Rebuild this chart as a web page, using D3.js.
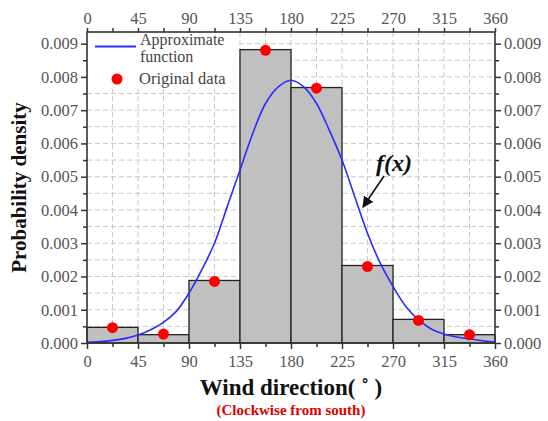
<!DOCTYPE html>
<html><head><meta charset="utf-8">
<script src="https://cdn.jsdelivr.net/npm/d3@7"></script>
<style>html,body{margin:0;padding:0;background:#fff;}svg{display:block;}</style>
</head><body>
<script>
// Data
const binStarts = [0, 45, 90, 135, 180, 225, 270, 315];
const binWidth = 45;
const barValues = [0.00047, 0.00025, 0.00188, 0.00882, 0.00768, 0.00233, 0.00071, 0.00025];
const dotAngles = [22.5, 67.5, 112.5, 157.5, 202.5, 247.5, 292.5, 337.5];
const dotValues = [0.00046, 0.00027, 0.00185, 0.00880, 0.00766, 0.00230, 0.00068, 0.00025];
const curveAngles = [0, 11.25, 22.5, 33.75, 45, 56.25, 67.5, 78.75, 90, 101.25, 112.5, 123.75, 135, 146.25, 157.5, 168.75, 180, 191.25, 202.5, 213.75, 225, 236.25, 247.5, 258.75, 270, 281.25, 292.5, 303.75, 315, 326.25, 337.5, 348.75, 360];
const curveValues = [0.00002, 0.00004, 0.00008, 0.00014, 0.00024, 0.0004, 0.00062, 0.00095, 0.0015, 0.0022, 0.003, 0.0041, 0.0052, 0.0063, 0.0072, 0.0077, 0.0079, 0.0077, 0.0072, 0.0064, 0.0055, 0.0044, 0.0033, 0.0024, 0.0017, 0.0011, 0.0007, 0.00042, 0.00027, 0.00018, 0.00012, 0.00007, 0.00003];
const xTicks = [0, 45, 90, 135, 180, 225, 270, 315, 360];
const yTicks = [0, 0.001, 0.002, 0.003, 0.004, 0.005, 0.006, 0.007, 0.008, 0.009];

(function () {
const W = 548, H = 421;
const L = 87, R = 495, T = 32, B = 343;
const FONT = '"Liberation Serif"';
const svg = d3.select("body").append("svg").attr("width", W).attr("height", H);
const x = d3.scaleLinear().domain([0, 360]).range([L, R]);
const y = d3.scaleLinear().domain([0, 0.00935]).range([B, T]);

// grid
const gridX = d3.range(22.5, 360, 22.5);
const gridY = d3.range(0.0005, 0.0093, 0.0005);
const g = svg.append("g");
g.selectAll(".gx").data(gridX).join("line")
  .attr("x1", d => x(d)).attr("x2", d => x(d)).attr("y1", T).attr("y2", B)
  .attr("stroke", "#c8c8c8").attr("stroke-width", 1).attr("stroke-dasharray", "5,3");
g.selectAll(".gy").data(gridY).join("line")
  .attr("x1", L).attr("x2", R).attr("y1", d => y(d)).attr("y2", d => y(d))
  .attr("stroke", "#c8c8c8").attr("stroke-width", 1).attr("stroke-dasharray", "5,3");

// legend background
svg.append("rect").attr("x", L + 1).attr("y", T + 1).attr("width", 148).attr("height", 56).attr("fill", "#fff");

// bars
svg.selectAll(".bar").data(binStarts).join("rect")
  .attr("x", d => x(d)).attr("width", d => x(d + binWidth) - x(d))
  .attr("y", (d, i) => y(barValues[i])).attr("height", (d, i) => B - y(barValues[i]))
  .attr("fill", "#c0c0c0").attr("stroke", "#222").attr("stroke-width", 1.3);

// curve
const line = d3.line().x(d => x(d[0])).y(d => y(d[1])).curve(d3.curveCatmullRom);
svg.append("path").datum(curveAngles.map((a, i) => [a, curveValues[i]]))
  .attr("d", line).attr("fill", "none").attr("stroke", "#2b2bff").attr("stroke-width", 1.6);

// dots
svg.selectAll(".dot").data(dotAngles).join("circle")
  .attr("cx", d => x(d)).attr("cy", (d, i) => y(dotValues[i])).attr("r", 5.5).attr("fill", "#ff0000");

// axes
function styleAxis(sel) {
  sel.attr("font-family", null).attr("font-size", null);
  sel.selectAll("path.domain").remove();
  sel.selectAll("line").attr("stroke", "#333").attr("stroke-width", 1.5);
  sel.selectAll("text").style("font-family", FONT).style("font-size", "16.5px").attr("fill", "#555");
}
const xMinor = d3.range(22.5, 360, 45);
const yMinor = d3.range(0.0005, 0.0093, 0.001);

styleAxis(svg.append("g").attr("transform", `translate(0,${B})`)
  .call(d3.axisBottom(x).tickValues(xTicks).tickSize(6).tickPadding(6)));
styleAxis(svg.append("g").attr("transform", `translate(0,${B})`)
  .call(d3.axisBottom(x).tickValues(xMinor).tickSize(4).tickFormat("")));
styleAxis(svg.append("g").attr("transform", `translate(0,${T})`)
  .call(d3.axisTop(x).tickValues(xTicks).tickSize(4).tickPadding(4)));
styleAxis(svg.append("g").attr("transform", `translate(0,${T})`)
  .call(d3.axisTop(x).tickValues(xMinor).tickSize(4).tickFormat("")));
const fmt = d3.format(".3f");
styleAxis(svg.append("g").attr("transform", `translate(${L},0)`)
  .call(d3.axisLeft(y).tickValues(yTicks).tickSize(6).tickPadding(3).tickFormat(fmt)));
styleAxis(svg.append("g").attr("transform", `translate(${L},0)`)
  .call(d3.axisLeft(y).tickValues(yMinor).tickSize(4).tickFormat("")));
styleAxis(svg.append("g").attr("transform", `translate(${R},0)`)
  .call(d3.axisRight(y).tickValues(yTicks).tickSize(6).tickPadding(3).tickFormat(fmt)));
styleAxis(svg.append("g").attr("transform", `translate(${R},0)`)
  .call(d3.axisRight(y).tickValues(yMinor).tickSize(4).tickFormat("")));

// frame
svg.append("rect").attr("x", L).attr("y", T).attr("width", R - L).attr("height", B - T)
  .attr("fill", "none").attr("stroke", "#333").attr("stroke-width", 1.6);

// legend
svg.append("line").attr("x1", 95).attr("x2", 136).attr("y1", 46.5).attr("y2", 46.5)
  .attr("stroke", "#2b2bff").attr("stroke-width", 2.2);
svg.append("text").attr("x", 140).attr("y", 45).text("Approximate")
  .style("font-family", FONT).style("font-size", "16px").attr("fill", "#444");
svg.append("text").attr("x", 140).attr("y", 62).text("function")
  .style("font-family", FONT).style("font-size", "16px").attr("fill", "#444");
svg.append("circle").attr("cx", 117).attr("cy", 79).attr("r", 5.5).attr("fill", "#ff0000");
svg.append("text").attr("x", 139).attr("y", 84).text("Original data")
  .style("font-family", FONT).style("font-size", "16.5px").attr("fill", "#444");

// f(x) annotation
svg.append("defs").append("marker").attr("id", "ah").attr("viewBox", "0 0 10 10")
  .attr("refX", 9).attr("refY", 5).attr("markerWidth", 7).attr("markerHeight", 7)
  .attr("orient", "auto").append("path").attr("d", "M0,0 L10,5 L0,10 z").attr("fill", "#111");
svg.append("line").attr("x1", 384).attr("y1", 176).attr("x2", 363).attr("y2", 207)
  .attr("stroke", "#111").attr("stroke-width", 1.6).attr("marker-end", "url(#ah)");
svg.append("text").attr("x", 376).attr("y", 171).text("f(x)")
  .style("font-family", FONT).style("font-size", "24px").style("font-weight", "bold").style("font-style", "italic").attr("fill", "#111");

// axis titles
svg.append("text").attr("transform", `translate(26,${(T + B) / 2}) rotate(-90)`)
  .attr("text-anchor", "middle").text("Probability density")
  .style("font-family", FONT).style("font-size", "21px").style("font-weight", "bold").attr("fill", "#111");
svg.append("text").attr("x", (L + R) / 2).attr("y", 395).attr("text-anchor", "middle")
  .text("Wind direction( ˚ )")
  .style("font-family", FONT).style("font-size", "23px").style("font-weight", "bold").attr("fill", "#111");
svg.append("text").attr("x", (L + R) / 2).attr("y", 415).attr("text-anchor", "middle")
  .text("(Clockwise from south)")
  .style("font-family", FONT).style("font-size", "15px").style("font-weight", "bold").attr("fill", "#e00000");
})();
</script>
</body></html>
